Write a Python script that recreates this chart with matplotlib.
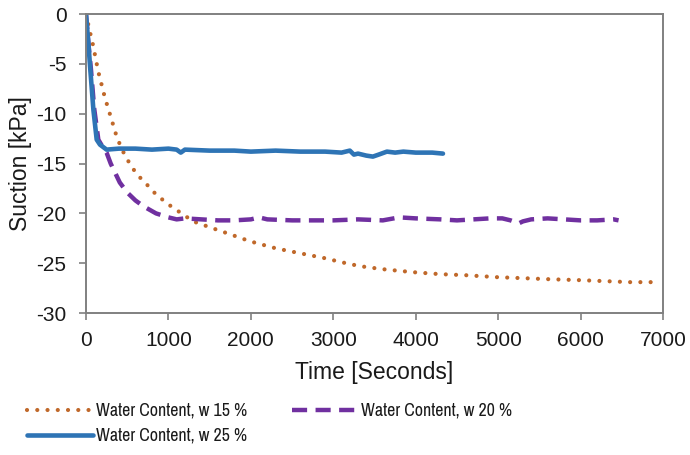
import matplotlib
matplotlib.use("Agg")
import matplotlib.pyplot as plt
from matplotlib import font_manager as fm
from matplotlib.textpath import TextPath

# ---- data ----
t_w15 = [0, 40, 85, 150, 230, 300, 376, 450, 530, 619, 716, 850, 1000, 1141, 1300, 1505, 1750,
         1990, 2300, 2597, 2900, 3100, 3325, 3600, 3968, 4300, 4600, 4985, 5300, 5600, 5995,
         6300, 6600, 6905]
s_w15 = [0, -1.5, -3.1, -5.8, -8.4, -10.3, -12.4, -13.8, -15.0, -16.1, -16.9, -18.1, -19.1,
         -19.9, -20.8, -21.4, -22.1, -22.8, -23.5, -24.0, -24.5, -24.9, -25.3, -25.6, -25.9,
         -26.1, -26.2, -26.4, -26.5, -26.6, -26.7, -26.8, -26.9, -26.9]

t_w20 = [0, 30, 60, 100, 150, 200, 250, 300, 410, 500, 600, 700, 850, 1000, 1100, 1200, 1400,
         1600, 1800, 2000, 2100, 2200, 2500, 2800, 3000, 3300, 3600, 3800, 4000, 4300, 4500,
         4700, 4900, 5050, 5150, 5250, 5300, 5400, 5600, 5800, 6000, 6200, 6400, 6460]
s_w20 = [0, -3, -5.5, -9.5, -12.6, -13.3, -13.9, -15.0, -16.9, -17.9, -18.7, -19.3, -20.0,
         -20.4, -20.6, -20.5, -20.6, -20.7, -20.7, -20.6, -20.4, -20.6, -20.7, -20.7, -20.7,
         -20.6, -20.7, -20.4, -20.5, -20.6, -20.7, -20.6, -20.5, -20.5, -20.7, -21.0, -20.8,
         -20.6, -20.5, -20.6, -20.7, -20.7, -20.6, -20.7]

t_w25 = [0, 30, 50, 90, 130, 170, 250, 400, 600, 800, 1000, 1100, 1150, 1200, 1500, 1800,
         2000, 2300, 2600, 2900, 3100, 3200, 3250, 3300, 3400, 3480, 3550, 3650, 3750, 3850,
         4000, 4100, 4200, 4330]
s_w25 = [0, -3, -5.3, -9.6, -12.6, -13.1, -13.6, -13.5, -13.5, -13.6, -13.5, -13.6, -13.9,
         -13.6, -13.7, -13.7, -13.8, -13.7, -13.8, -13.8, -13.9, -13.7, -14.1, -14.0, -14.2,
         -14.3, -14.1, -13.8, -13.9, -13.8, -13.9, -13.9, -13.9, -14.0]

labels = ["Water Content, w 15 %", "Water Content, w 20 %", "Water Content, w 25 %"]
x_ticks = [0, 1000, 2000, 3000, 4000, 5000, 6000, 7000]
y_ticks = [0, -5, -10, -15, -20, -25, -30]

base = "Liberation Sans"
plt.rcParams["font.family"] = base
plt.rcParams["axes.unicode_minus"] = False


def pick_condensed():
    ranked = []
    for f in fm.fontManager.ttflist:
        if f.style != "normal":
            continue
        try:
            w = int(f.weight)
        except Exception:
            w = 400 if str(f.weight) in ("normal", "regular") else 0
        if w != 400:
            continue
        n = f.name.lower()
        st = str(f.stretch).lower()
        tag = n + " " + st + " " + f.fname.lower()
        if "mono" in tag or "serif" in n or "cjk" in n:
            continue
        score = None
        if "liberation sans narrow" in n or "arial narrow" in n:
            score = 0
        elif "narrow" in tag:
            score = 1
        elif "extra" not in tag and "semi" not in tag and "condensed" in tag:
            score = 2
        elif "semi" in tag and "condensed" in tag:
            score = 3
        if score is not None:
            ranked.append((score, f.fname))
    ranked.sort()
    return ranked[0][1] if ranked else None


cond_path = pick_condensed()
target_px = 150.0
if cond_path:
    probe = fm.FontProperties(fname=cond_path, size=10)
else:
    probe = fm.FontProperties(family=base, size=10)
tp = TextPath((0, 0), labels[0], prop=probe, size=10)
w10 = tp.get_extents().width * 100 / 72.0
fsize = min(15.0, 10 * target_px / w10)
leg_prop = probe.copy()
leg_prop.set_size(fsize)

fig = plt.figure(figsize=(6.9, 4.55), dpi=100)
ax = fig.add_axes([0.1246, 0.312, 0.961 - 0.1246, 0.969 - 0.312])

c15, c20, c25 = "#C0682A", "#7030A0", "#2E74B5"
l15, = ax.plot(t_w15, s_w15, color=c15, lw=3.0, linestyle=(0, (0.01, 2.45)),
               dash_capstyle="round", label=labels[0])
l20, = ax.plot(t_w20, s_w20, color=c20, lw=3.2, linestyle=(0, (3.4, 1.9)), label=labels[1])
l25, = ax.plot(t_w25, s_w25, color=c25, lw=3.3, label=labels[2], solid_capstyle="round")

ax.set_xlim(0, 7000)
ax.set_ylim(-30, 0)
ax.set_xticks(x_ticks)
ax.set_yticks(y_ticks)
ax.tick_params(direction="out", length=5, width=1.2, labelsize=15, colors="#808080",
               labelcolor="#1a1a1a")
ax.tick_params(axis="x", pad=8)
ax.tick_params(axis="y", pad=9)
for s in ax.spines.values():
    s.set_color("#808080")
    s.set_linewidth(1.4)
ax.set_xlabel("Time [Seconds]", fontsize=16.5, color="#1a1a1a", labelpad=8)
ax.set_ylabel("Suction [kPa]", fontsize=16.5, color="#1a1a1a", labelpad=3)

fs_px = fsize * 100 / 72.0
leg = fig.legend(handles=[l15, l25, l20], loc="upper left",
                 bbox_to_anchor=(27 / 690, 1 - (414 - 0.62 * fs_px) / 455),
                 ncol=2, frameon=False, handlelength=66 / fs_px, handletextpad=3 / fs_px,
                 columnspacing=45 / fs_px, labelspacing=(26 - fs_px * 0.95) / fs_px,
                 borderaxespad=0, borderpad=0, prop=leg_prop)
for t in leg.get_texts():
    t.set_color("#1a1a1a")
fig.savefig("out.png", dpi=100)
